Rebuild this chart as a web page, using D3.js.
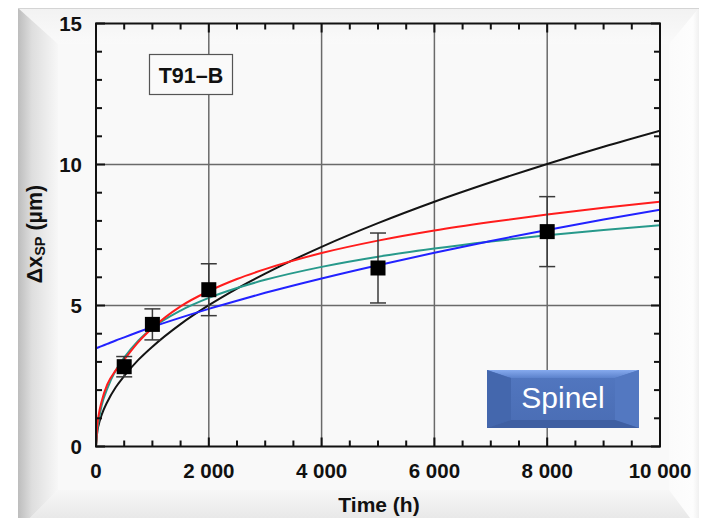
<!DOCTYPE html>
<html>
<head>
<meta charset="utf-8">
<script src="https://cdn.jsdelivr.net/npm/d3@7"></script>
<style>
  html, body { margin: 0; padding: 0; background: #ffffff; }
  svg { display: block; }
  text { font-family: "Liberation Sans", Arial, Helvetica, sans-serif; }
</style>
</head>
<body>
<svg id="chart" width="703" height="518"></svg>
<script>
// Measured spinel layer thickness (µm) with error bars
const measTime = [500, 1000, 2000, 5000, 8000];
const measValue = [2.83, 4.33, 5.56, 6.33, 7.62];
const measError = [0.36, 0.55, 0.92, 1.24, 1.24];

// Growth-law curves sampled along time (h)
const curveTime = [0, 25, 50, 100, 200, 350, 500, 750, 1000, 1500, 2000, 2500, 3000, 4000, 5000, 6000, 7000, 8000, 9000, 10000];
const blackCurve = [0, 0.56, 0.79, 1.12, 1.58, 2.10, 2.50, 3.07, 3.54, 4.34, 5.01, 5.60, 6.13, 7.08, 7.92, 8.68, 9.37, 10.02, 10.63, 11.20];
const redCurve   = [0, 0.80, 1.15, 1.60, 2.20, 2.70, 3.08, 3.70, 4.20, 4.97, 5.51, 5.94, 6.29, 6.86, 7.30, 7.66, 7.96, 8.23, 8.47, 8.68];
const tealCurve  = [0, 0.60, 0.95, 1.45, 2.05, 2.70, 3.15, 3.75, 4.20, 4.82, 5.27, 5.62, 5.91, 6.37, 6.73, 7.02, 7.27, 7.49, 7.68, 7.85];
const blueCurve  = [3.48, 3.50, 3.52, 3.56, 3.64, 3.76, 3.87, 4.06, 4.24, 4.57, 4.88, 5.17, 5.45, 5.96, 6.43, 6.87, 7.29, 7.68, 8.05, 8.40];

const xTicks = [0, 2000, 4000, 6000, 8000, 10000];
const yTicks = [0, 5, 10, 15];
const sampleLabel = "T91\u2013B";
const phaseLabel = "Spinel";

const svg = d3.select("#chart");

// ---- picture frame with bevelled edges ----
const defs = svg.append("defs");
function lin(id, x1, y1, x2, y2, stops) {
  const g = defs.append("linearGradient").attr("id", id)
    .attr("x1", x1).attr("y1", y1).attr("x2", x2).attr("y2", y2);
  stops.forEach(s => g.append("stop").attr("offset", s[0]).attr("stop-color", s[1]));
}
lin("bevL", 0, 0, 1, 0, [[0, "#bdbdbd"], [0.35, "#dedede"], [1, "#f7f7f7"]]);
lin("bevT", 0, 0, 0, 1, [[0, "#f2f2f2"], [1, "#fafafa"]]);
lin("bevR", 1, 0, 0, 0, [[0, "#f0f0f0"], [0.2, "#fdfdfd"], [1, "#fbfbfb"]]);
lin("bevB", 0, 1, 0, 0, [[0, "#e2e2e2"], [1, "#f7f7f7"]]);
lin("btnTop", 0, 0, 0, 1, [[0, "#86aaee"], [1, "#5c82cc"]]);
lin("btnFace", 0, 0, 0, 1, [[0, "#5277c0"], [1, "#4a6db4"]]);

const F = { x0: 18, y0: 8, x1: 699, y1: 530, b: 40 };
svg.append("rect").attr("x", F.x0).attr("y", F.y0)
  .attr("width", F.x1 - F.x0).attr("height", F.y1 - F.y0).attr("fill", "#f9f9f9");
const poly = (pts, fill) => svg.append("polygon")
  .attr("points", pts.map(p => p.join(",")).join(" ")).attr("fill", fill);
poly([[F.x0, F.y0], [F.x1, F.y0], [F.x1 - 30, F.y0 + 36], [F.x0 + F.b, F.y0 + 36]], "url(#bevT)");
poly([[F.x1, F.y0], [F.x1, F.y1], [F.x1 - 30, F.y1 - 40], [F.x1 - 30, F.y0 + 36]], "url(#bevR)");
poly([[F.x0, F.y1], [F.x1, F.y1], [F.x1 - 30, F.y1 - 40], [F.x0 + F.b, F.y1 - 40]], "url(#bevB)");
poly([[F.x0, F.y0], [F.x0 + F.b, F.y0 + 36], [F.x0 + F.b, F.y1 - 40], [F.x0, F.y1]], "url(#bevL)");
svg.append("line").attr("x1", F.x0).attr("x2", F.x1).attr("y1", F.y0 + 0.5).attr("y2", F.y0 + 0.5)
  .attr("stroke", "#d4d4d4").attr("stroke-width", 1);

// ---- scales ----
const x = d3.scaleLinear().domain([0, 10000]).range([96, 660]);
const y = d3.scaleLinear().domain([0, 15]).range([446.5, 23.5]);
const [X0, X1] = x.range();
const [Y0, Y1] = y.range();

const plot = svg.append("g");

// grid lines
plot.append("g").selectAll("line").data(xTicks.slice(1, -1)).join("line")
  .attr("x1", d => x(d)).attr("x2", d => x(d)).attr("y1", Y0).attr("y2", Y1)
  .attr("stroke", "#6a6a6a").attr("stroke-width", 1.5);
plot.append("g").selectAll("line").data(yTicks.slice(1, -1)).join("line")
  .attr("y1", d => y(d)).attr("y2", d => y(d)).attr("x1", X0).attr("x2", X1)
  .attr("stroke", "#6a6a6a").attr("stroke-width", 1.5);

// curves
svg.append("clipPath").attr("id", "plotClip").append("rect")
  .attr("x", X0).attr("y", Y1).attr("width", X1 - X0).attr("height", Y0 - Y1);
const line = d3.line().x(d => x(d[0])).y(d => y(d[1])).curve(d3.curveMonotoneX);
const curves = [
  { vals: blackCurve, color: "#141414" },
  { vals: tealCurve, color: "#27998b" },
  { vals: blueCurve, color: "#2222ff" },
  { vals: redCurve, color: "#ff1c1c" }
];
const cg = plot.append("g").attr("clip-path", "url(#plotClip)");
curves.forEach(c => {
  cg.append("path").datum(curveTime.map((t, i) => [t, c.vals[i]]))
    .attr("d", line).attr("fill", "none").attr("stroke", c.color).attr("stroke-width", 2);
});

// error bars and markers
const meas = measTime.map((t, i) => ({ t, v: measValue[i], e: measError[i] }));
const eb = plot.append("g").attr("stroke", "#3a3a3a").attr("stroke-width", 1.5);
meas.forEach(d => {
  const cx = x(d.t);
  eb.append("line").attr("x1", cx).attr("x2", cx).attr("y1", y(d.v - d.e)).attr("y2", y(d.v + d.e));
  [d.v - d.e, d.v + d.e].forEach(v =>
    eb.append("line").attr("x1", cx - 8).attr("x2", cx + 8).attr("y1", y(v)).attr("y2", y(v)));
});
plot.append("g").selectAll("rect").data(meas).join("rect")
  .attr("x", d => x(d.t) - 7.5).attr("y", d => y(d.v) - 7.5)
  .attr("width", 15).attr("height", 15).attr("fill", "#000");

// ---- axes box with inward ticks on all four sides ----
const axG = svg.append("g");
const xMinor = d3.range(0, 10001, 500);
const yMinor = d3.range(0, 16, 1);
const tk = axG.append("g").attr("stroke", "#111").attr("stroke-width", 2);
xMinor.forEach(v => {
  const L = v % 2000 === 0 ? 9 : 6;
  tk.append("line").attr("x1", x(v)).attr("x2", x(v)).attr("y1", Y0).attr("y2", Y0 - L);
  tk.append("line").attr("x1", x(v)).attr("x2", x(v)).attr("y1", Y1).attr("y2", Y1 + L);
});
yMinor.forEach(v => {
  const L = v % 5 === 0 ? 9 : 6;
  tk.append("line").attr("y1", y(v)).attr("y2", y(v)).attr("x1", X0).attr("x2", X0 + L);
  tk.append("line").attr("y1", y(v)).attr("y2", y(v)).attr("x1", X1).attr("x2", X1 - L);
});
axG.append("rect").attr("x", X0).attr("y", Y1).attr("width", X1 - X0).attr("height", Y0 - Y1)
  .attr("fill", "none").attr("stroke", "#111").attr("stroke-width", 2);

// tick labels
const fmt = d => d3.format(",")(d).replace(/,/g, " ");
axG.append("g").selectAll("text").data(xTicks).join("text")
  .attr("x", d => x(d)).attr("y", 477.5).attr("text-anchor", "middle")
  .attr("font-size", 20.5).attr("font-weight", "bold").attr("fill", "#111").text(fmt);
axG.append("g").selectAll("text").data(yTicks).join("text")
  .attr("x", 82).attr("y", d => y(d) + 7).attr("text-anchor", "end")
  .attr("font-size", 20.5).attr("font-weight", "bold").attr("fill", "#111").text(d => d);

// axis titles
svg.append("text").attr("x", 379).attr("y", 512).attr("text-anchor", "middle")
  .attr("font-size", 21).attr("font-weight", "bold").attr("fill", "#111").text("Time (h)");
const yt = svg.append("text").attr("transform", "translate(41.5,234) rotate(-90)")
  .attr("text-anchor", "middle").attr("font-size", 21.5).attr("font-weight", "bold").attr("fill", "#111");
yt.append("tspan").text("\u0394x");
yt.append("tspan").attr("font-size", 14.5).attr("dy", 3).text("SP");
yt.append("tspan").attr("dy", -3).text(" (\u00b5m)");

// sample label box
svg.append("rect").attr("x", 149.5).attr("y", 54.5).attr("width", 83).attr("height", 40)
  .attr("fill", "#fafafa").attr("stroke", "#555").attr("stroke-width", 1.2);
svg.append("text").attr("x", 191).attr("y", 82.5).attr("text-anchor", "middle")
  .attr("font-size", 21.5).attr("font-weight", "bold").attr("fill", "#111").text(sampleLabel);

// bevelled phase button
const B = { x0: 487, y0: 370, x1: 639, y1: 428, s: 24, t: 8 };
const bg = svg.append("g");
const bpoly = (pts, fill) => bg.append("polygon")
  .attr("points", pts.map(p => p.join(",")).join(" ")).attr("fill", fill);
bg.append("rect").attr("x", B.x0).attr("y", B.y0).attr("width", B.x1 - B.x0).attr("height", B.y1 - B.y0)
  .attr("fill", "url(#btnFace)");
bpoly([[B.x0, B.y0], [B.x1, B.y0], [B.x1 - B.s, B.y0 + B.t], [B.x0 + B.s, B.y0 + B.t]], "url(#btnTop)");
bpoly([[B.x0, B.y0], [B.x0 + B.s, B.y0 + B.t], [B.x0 + B.s, B.y1 - B.t], [B.x0, B.y1]], "#4467ad");
bpoly([[B.x1, B.y0], [B.x1 - B.s, B.y0 + B.t], [B.x1 - B.s, B.y1 - B.t], [B.x1, B.y1]], "#5378c1");
bpoly([[B.x0, B.y1], [B.x0 + B.s, B.y1 - B.t], [B.x1 - B.s, B.y1 - B.t], [B.x1, B.y1]], "#3f5fa2");
bg.append("text").attr("x", (B.x0 + B.x1) / 2).attr("y", 407.5).attr("text-anchor", "middle")
  .attr("font-size", 30).attr("fill", "#ffffff").text(phaseLabel);
</script>
</body>
</html>
